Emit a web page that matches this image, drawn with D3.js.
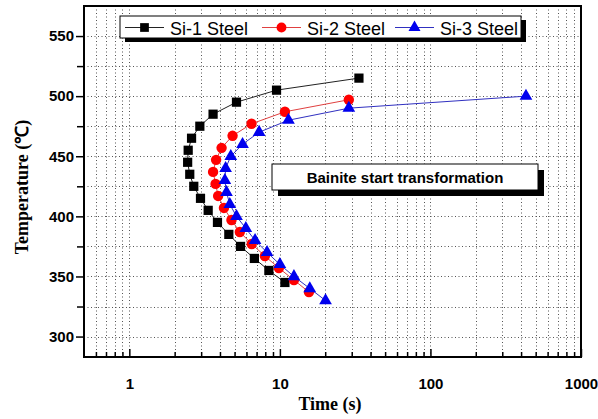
<!DOCTYPE html>
<html><head><meta charset="utf-8">
<script src="https://cdn.jsdelivr.net/npm/d3@7"></script>
<style>body{margin:0;background:#fff}svg{display:block}</style>
</head><body>
<svg id="c" width="598" height="419"></svg>
<script>
// ---- data ----
const seriesNames = ["Si-1 Steel", "Si-2 Steel", "Si-3 Steel"];
const si1Temp = [515,505,495,485,475,465,455,445,435,425,415,405,395,385,375,365,355,345];
const si1Time = [33.5,9.5,5.15,3.6,2.94,2.59,2.46,2.44,2.52,2.68,2.97,3.34,3.85,4.58,5.48,6.77,8.45,10.8];
const si2Temp = [497,487,477,467,457,447,437,427,417,407,397,387,377,367,357,347,337];
const si2Time = [28.7,10.8,6.48,4.85,4.1,3.77,3.6,3.74,3.89,4.25,4.77,5.42,6.5,7.95,9.85,12.4,15.6];
const si3Temp = [500,490,480,470,460,450,440,430,420,410,400,390,380,370,360,350,340,330];
const si3Time = [431,28.7,11.4,7.28,5.65,4.72,4.36,4.31,4.42,4.65,5.15,5.94,6.84,8.22,10,12.4,15.8,20.1];
const xMajorTicks = [1,10,100,1000];
const xTickLabels = ["1","10","100","1000"];
const yMajorTicks = [300,350,400,450,500,550];
const yMinorTicks = [325,375,425,475,525];
const annotation = "Bainite start transformation";
const xTitle = "Time (s)";
const yTitle = "Temperature (\u2103)";

// ---- layout ----
const svg = d3.select("#c");
const L = 84, R = 581, T = 6, B = 357;
const x = d3.scaleLog().domain([0.5, 1000]).range([L, R]);
const y = d3.scaleLinear().domain([283, 575]).range([B, T]);

const xMinor = [];
[0.1,1,10,100].forEach(d => { for (let k=2;k<=9;k++){ const v=d*k; if (v>0.5 && v<1000) xMinor.push(v);} });

// grid
const grid = svg.append("g").attr("stroke","#555").attr("stroke-width",1).attr("stroke-dasharray","1,2.5");
grid.selectAll("line.v").data(xMinor.concat([1,10,100])).join("line")
  .attr("x1",d=>Math.round(x(d))+0.5).attr("x2",d=>Math.round(x(d))+0.5).attr("y1",T).attr("y2",B);
grid.selectAll("line.h").data(yMajorTicks.concat(yMinorTicks)).join("line")
  .attr("y1",d=>Math.round(y(d))+0.5).attr("y2",d=>Math.round(y(d))+0.5).attr("x1",L).attr("x2",R);

// x axis (ticks inside)
const xAx = svg.append("g").attr("transform",`translate(0,${B})`);
xAx.call(d3.axisBottom(x).tickValues(xMajorTicks).tickFormat((d,i)=>xTickLabels[i]).tickSize(-8).tickPadding(21));
xAx.append("g").call(d3.axisBottom(x).tickValues(xMinor).tickFormat("").tickSize(-5));
xAx.selectAll(".domain").remove();
xAx.selectAll("line").attr("stroke","#000").attr("stroke-width",1.5);
xAx.selectAll("text").attr("font-family","'Liberation Sans', Arial, sans-serif").attr("font-weight","bold").attr("font-size",15).attr("fill","#000");

// y axis (ticks outside)
const yAx = svg.append("g").attr("transform",`translate(${L},0)`);
yAx.call(d3.axisLeft(y).tickValues(yMajorTicks).tickSize(8).tickPadding(2));
yAx.append("g").call(d3.axisLeft(y).tickValues(yMinorTicks).tickFormat("").tickSize(7));
yAx.selectAll(".domain").remove();
yAx.selectAll("line").attr("stroke","#000").attr("stroke-width",1.5);
yAx.selectAll("text").attr("font-family","'Liberation Sans', Arial, sans-serif").attr("font-weight","bold").attr("font-size",15).attr("fill","#000");

// frame
svg.append("rect").attr("x",L).attr("y",T).attr("width",R-L).attr("height",B-T)
  .attr("fill","none").attr("stroke","#000").attr("stroke-width",2);

// series
const series = [
  {name:seriesNames[0], t:si1Time, T:si1Temp, line:"#222", fill:"#000", sym:d3.symbolSquare, size:85},
  {name:seriesNames[1], t:si2Time, T:si2Temp, line:"#e04040", fill:"#ff0000", sym:d3.symbolCircle, size:85},
  {name:seriesNames[2], t:si3Time, T:si3Temp, line:"#3030c0", fill:"#0000ee", sym:d3.symbolTriangle, size:70}
];
const line = d3.line().x(d=>x(d[0])).y(d=>y(d[1]));
series.forEach(s=>{
  const pts = s.t.map((v,i)=>[v,s.T[i]]);
  svg.append("path").datum(pts).attr("d",line).attr("fill","none").attr("stroke",s.line).attr("stroke-width",1);
  svg.append("g").selectAll("path").data(pts).join("path")
    .attr("transform",d=>`translate(${x(d[0])},${y(d[1])})`)
    .attr("d",d3.symbol().type(s.sym).size(s.size)).attr("fill",s.fill);
});

// legend
const lg = svg.append("g");
lg.append("rect").attr("x",125).attr("y",20).attr("width",401).attr("height",22).attr("fill","#000");
lg.append("rect").attr("x",120).attr("y",16).attr("width",401).attr("height",22).attr("fill","#fff").attr("stroke","#000").attr("stroke-width",1);
const legX = [125, 262, 395];
series.forEach((s,i)=>{
  const x0 = legX[i];
  lg.append("line").attr("x1",x0).attr("x2",x0+39).attr("y1",27.5).attr("y2",27.5).attr("stroke",s.line).attr("stroke-width",1);
  lg.append("path").attr("transform",`translate(${x0+19.5},27.5)`).attr("d",d3.symbol().type(s.sym).size(s.size*0.9)).attr("fill",s.fill);
  lg.append("text").attr("x",x0+45).attr("y",35).text(s.name)
    .attr("font-family","'Liberation Sans', Arial, sans-serif").attr("font-size",18).attr("fill","#000");
});

// annotation
const an = svg.append("g");
an.append("rect").attr("x",278).attr("y",170).attr("width",266).attr("height",26).attr("fill","#000");
an.append("rect").attr("x",272).attr("y",164).attr("width",266).attr("height",26).attr("fill","#fff").attr("stroke","#000").attr("stroke-width",1);
an.append("text").attr("x",405).attr("y",183).attr("text-anchor","middle").text(annotation)
  .attr("font-family","'Liberation Sans', Arial, sans-serif").attr("font-weight","bold").attr("font-size",15).attr("fill","#000");

// titles
svg.append("text").attr("x",330).attr("y",410).attr("text-anchor","middle").text(xTitle)
  .attr("font-family","'Liberation Serif', 'Times New Roman', serif").attr("font-weight","bold").attr("font-size",18);
svg.append("text").attr("transform","translate(28,187) rotate(-90)").attr("text-anchor","middle").text(yTitle)
  .attr("font-family","'Liberation Serif', 'Times New Roman', serif").attr("font-weight","bold").attr("font-size",18);
</script>
</body></html>
